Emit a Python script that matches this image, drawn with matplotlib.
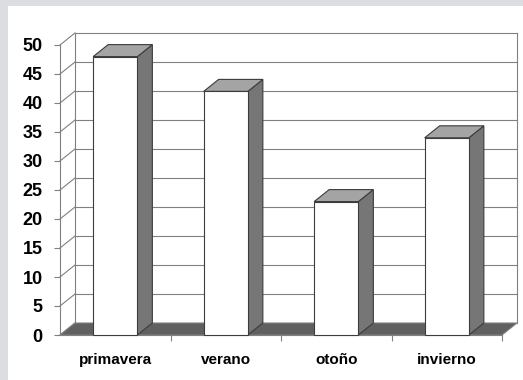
import matplotlib
matplotlib.use("Agg")
import matplotlib.pyplot as plt
from matplotlib.patches import Polygon, Rectangle

plt.rcParams['font.family'] = ['Liberation Sans', 'DejaVu Sans']

# Data
categories = ["primavera", "verano", "otoño", "invierno"]
values = [48, 42, 23, 34]
y_ticks = list(range(0, 55, 5))

# Styling
FIG_W, FIG_H, DPI = 5.23, 3.80, 100
DEPTH_PX = (15, 12)          # 3D depth offset in pixels (right, up)
BAR_WIDTH = 0.40
GRID_COLOR = "#808080"
EDGE_COLOR = "#3c3c3c"
TOP_COLOR = "#a4a4a4"
SIDE_COLOR = "#767676"
FLOOR_COLOR = "#606060"
FRAME_BG = "#dcdde0"

fig = plt.figure(figsize=(FIG_W, FIG_H), dpi=DPI, facecolor=FRAME_BG)
fig_w_px, fig_h_px = FIG_W * DPI, FIG_H * DPI

# white panel inside the grey frame
fig.patches.append(Rectangle((8 / fig_w_px, 0), 1, 1 - 6 / fig_h_px,
                             transform=fig.transFigure, facecolor="white",
                             edgecolor="none", zorder=-10))

ax_left, ax_bottom, ax_w, ax_h = 60, 45, 442, 290
ax = fig.add_axes([ax_left / fig_w_px, ax_bottom / fig_h_px,
                   ax_w / fig_w_px, ax_h / fig_h_px])
ax.set_facecolor("none")
ax.set_zorder(1)

n = len(categories)
x_lo, x_hi = -0.5, n - 0.5
y_lo, y_hi = y_ticks[0], y_ticks[-1]
ax.set_xlim(x_lo, x_hi)
ax.set_ylim(y_lo, y_hi)

# depth expressed in data units
dx = DEPTH_PX[0] / ax_w * (x_hi - x_lo)
dy = DEPTH_PX[1] / ax_h * (y_hi - y_lo)

lw = 0.8
# floor
ax.add_patch(Polygon([(x_lo, y_lo), (x_hi, y_lo), (x_hi + dx, y_lo + dy),
                      (x_lo + dx, y_lo + dy)], closed=True,
                     facecolor=FLOOR_COLOR, edgecolor=GRID_COLOR, lw=lw,
                     zorder=2, clip_on=False))

# back wall grid lines and left wall diagonals
for t in y_ticks:
    if t > y_lo:
        ax.plot([x_lo + dx, x_hi + dx], [t + dy, t + dy], color=GRID_COLOR,
                lw=lw, zorder=1, clip_on=False)
    ax.plot([x_lo, x_lo + dx], [t, t + dy], color=GRID_COLOR, lw=lw,
            zorder=1, clip_on=False)
# back wall vertical edges
for xb in (x_lo + dx, x_hi + dx):
    ax.plot([xb, xb], [y_lo + dy, y_hi + dy], color=GRID_COLOR, lw=lw,
            zorder=1, clip_on=False)
# front axis line
ax.plot([x_lo, x_lo], [y_lo, y_hi], color=GRID_COLOR, lw=lw, zorder=1,
        clip_on=False)
ax.plot([x_lo, x_hi], [y_lo, y_lo], color=GRID_COLOR, lw=lw, zorder=1,
        clip_on=False)

# 3D columns
for i, v in enumerate(values):
    x0, x1 = i - BAR_WIDTH / 2, i + BAR_WIDTH / 2
    ax.add_patch(Polygon([(x1, y_lo), (x1 + dx, y_lo + dy), (x1 + dx, v + dy),
                          (x1, v)], closed=True, facecolor=SIDE_COLOR,
                         edgecolor=EDGE_COLOR, lw=lw, zorder=3, clip_on=False))
    ax.add_patch(Polygon([(x0, v), (x1, v), (x1 + dx, v + dy), (x0 + dx, v + dy)],
                         closed=True, facecolor=TOP_COLOR, edgecolor=EDGE_COLOR,
                         lw=lw, zorder=3, clip_on=False))
    ax.add_patch(Rectangle((x0, y_lo), BAR_WIDTH, v, facecolor="white",
                           edgecolor=EDGE_COLOR, lw=lw, zorder=4, clip_on=False))

for s in ax.spines.values():
    s.set_visible(False)

ax.set_yticks(y_ticks)
ax.set_yticklabels([str(t) for t in y_ticks], fontsize=13, fontweight="bold")
ax.tick_params(axis="y", length=4.5, width=0.8, color=GRID_COLOR, pad=8)

ax.set_xticks(range(n))
ax.set_xticklabels(categories, fontsize=11, fontweight="bold")
ax.set_xticks([k + 0.5 for k in range(n)], minor=True)
ax.tick_params(axis="x", which="major", length=0, pad=13)
ax.tick_params(axis="x", which="minor", length=4, width=0.8, color=GRID_COLOR)

fig.savefig("out.png", dpi=DPI, facecolor=FRAME_BG)
